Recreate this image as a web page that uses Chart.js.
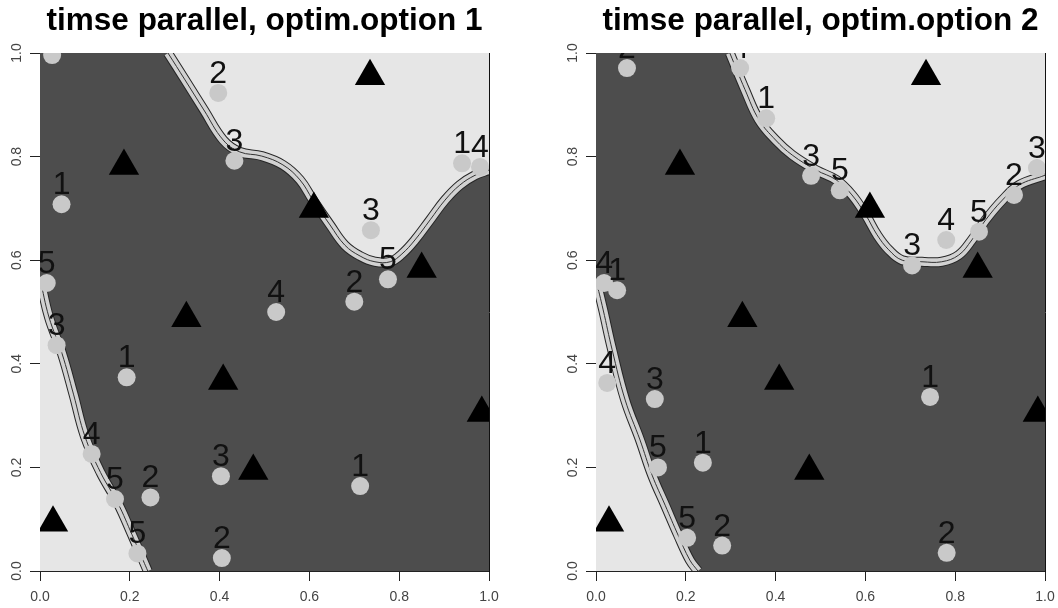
<!DOCTYPE html>
<html>
<head>
  <title>timse parallel, optim.option 1 / 2</title>
  <script src="https://cdn.jsdelivr.net/npm/chart.js"></script>
  <style>
    body { margin: 0; width: 1058px; height: 608px; overflow: hidden; background: #fff; position: relative; }
    .panel { position: absolute; top: 0; width: 529px; height: 608px; }
  </style>
</head>
<body>
  <div class="panel" style="left:0"><canvas id="c1" width="529" height="608"></canvas></div>
  <div class="panel" style="left:556px"><canvas id="c2" width="529" height="608"></canvas></div>
<script>
// axis ticks (both axes)
const tickVals = [0, 0.2, 0.4, 0.6, 0.8, 1.0];

// initial design (triangles), same in both panels
const designX = [0.735, 0.187, 0.61, 0.85, 0.326, 0.408, 0.475, 0.984, 0.029];
const designY = [0.955, 0.782, 0.699, 0.583, 0.488, 0.367, 0.193, 0.305, 0.093];

// points added by batch, optim.option 1
const opt1X = [0.027, 0.397, 0.433, 0.048, 0.737, 0.94, 0.98, 0.775, 0.015, 0.70, 0.526, 0.037, 0.193, 0.115, 0.167, 0.246, 0.403, 0.713, 0.217, 0.405];
const opt1Y = [0.996, 0.923, 0.792, 0.708, 0.658, 0.787, 0.78, 0.563, 0.556, 0.52, 0.50, 0.436, 0.374, 0.226, 0.139, 0.142, 0.183, 0.164, 0.034, 0.025];
const opt1Lab = ['4', '2', '3', '1', '3', '1', '4', '5', '5', '2', '4', '3', '1', '4', '5', '2', '3', '1', '5', '2'];

// points added by batch, optim.option 2
const opt2X = [0.069, 0.321, 0.379, 0.479, 0.543, 0.704, 0.78, 0.853, 0.931, 0.982, 0.018, 0.047, 0.025, 0.131, 0.138, 0.238, 0.203, 0.281, 0.744, 0.781];
const opt2Y = [0.971, 0.971, 0.874, 0.763, 0.735, 0.59, 0.639, 0.655, 0.726, 0.778, 0.556, 0.542, 0.363, 0.332, 0.2, 0.209, 0.064, 0.049, 0.336, 0.035];
const opt2Lab = ['2', '4', '1', '3', '5', '3', '4', '5', '2', '3', '4', '1', '4', '3', '5', '1', '5', '2', '1', '2'];

// excursion set boundary (contour), upper region and lower-left region
const up1X = [0.285, 0.323, 0.365, 0.408, 0.445, 0.494, 0.541, 0.579, 0.608, 0.646, 0.679, 0.713, 0.746, 0.78, 0.806, 0.835, 0.869, 0.902, 0.935, 0.969, 1.0];
const up1Y = [1.0, 0.948, 0.89, 0.832, 0.809, 0.801, 0.784, 0.755, 0.716, 0.668, 0.629, 0.608, 0.597, 0.597, 0.612, 0.639, 0.678, 0.716, 0.745, 0.764, 0.774];
const low1X = [0, 0.02, 0.049, 0.075, 0.1, 0.135, 0.174, 0.205, 0.23, 0.24];
const low1Y = [0.565, 0.49, 0.42, 0.34, 0.26, 0.19, 0.13, 0.07, 0.02, 0.0];

const up2X = [0.298, 0.332, 0.363, 0.40, 0.437, 0.49, 0.535, 0.57, 0.601, 0.626, 0.652, 0.682, 0.726, 0.77, 0.808, 0.837, 0.868, 0.905, 0.942, 1.0];
const up2Y = [1.0, 0.929, 0.871, 0.832, 0.803, 0.774, 0.755, 0.726, 0.687, 0.649, 0.62, 0.60, 0.597, 0.597, 0.61, 0.639, 0.678, 0.716, 0.745, 0.764];
const low2X = [0, 0.016, 0.036, 0.065, 0.098, 0.125, 0.154, 0.183, 0.209, 0.227];
const low2Y = [0.562, 0.504, 0.427, 0.33, 0.253, 0.185, 0.127, 0.069, 0.021, 0.0];

const FONT = '"Liberation Sans", Arial, sans-serif';

function toPts(xs, ys) { return xs.map((x, i) => ({ x: x, y: ys[i] })); }

function contourSets(xs, ys, fill) {
  const base = { data: toPts(xs, ys), showLine: true, pointRadius: 0, tension: 0.4, clip: 0 };
  return [
    Object.assign({}, base, { fill: fill, backgroundColor: '#e6e6e6', borderColor: '#262626', borderWidth: 10, order: 6 }),
    Object.assign({}, base, { fill: false, borderColor: '#d2d2d2', borderWidth: 8, order: 5 }),
    Object.assign({}, base, { fill: false, borderColor: '#333', borderWidth: 1, order: 4 })
  ];
}

const plotBg = {
  id: 'plotBg',
  beforeDraw(chart) {
    const { ctx, chartArea: a } = chart;
    ctx.save();
    ctx.fillStyle = '#4d4d4d';
    ctx.fillRect(a.left, a.top, a.right - a.left, a.bottom - a.top);
    ctx.restore();
  }
};

const batchLabels = {
  id: 'batchLabels',
  afterDatasetsDraw(chart) {
    const { ctx, chartArea: a } = chart;
    chart.data.datasets.forEach((ds, i) => {
      if (!ds.batch) return;
      const meta = chart.getDatasetMeta(i);
      ctx.save();
      ctx.beginPath();
      ctx.rect(a.left, a.top, a.right - a.left, a.bottom - a.top);
      ctx.clip();
      ctx.font = '32px ' + FONT;
      ctx.fillStyle = '#111';
      ctx.textAlign = 'center';
      ctx.textBaseline = 'alphabetic';
      meta.data.forEach((pt, j) => ctx.fillText(ds.batch[j], pt.x, pt.y - 10));
      ctx.restore();
    });
  }
};

function makeScales() {
  const tickFont = { size: 14, family: FONT };
  const setTicks = s => { s.ticks = tickVals.map(v => ({ value: v })); };
  return {
    x: {
      type: 'linear', min: 0, max: 1,
      afterBuildTicks: setTicks,
      afterFit: s => { s.height = 37; },
      grid: { display: true, drawOnChartArea: false, drawTicks: true, tickLength: 10, color: '#222' },
      border: { display: true, color: '#222' },
      ticks: { font: tickFont, color: '#444', padding: 8, maxRotation: 0, autoSkip: false, callback: v => v.toFixed(1) }
    },
    y: {
      type: 'linear', position: 'left', min: 0, max: 1,
      afterBuildTicks: setTicks,
      afterFit: s => { s.width = 40; },
      grid: { display: true, drawOnChartArea: false, drawTicks: true, tickLength: 10, color: '#222' },
      border: { display: false },
      ticks: { font: tickFont, color: '#444', padding: 3, minRotation: 90, maxRotation: 90, crossAlign: 'center', autoSkip: false, callback: v => v.toFixed(1) }
    },
    y2: {
      type: 'linear', position: 'right', min: 0, max: 1,
      afterFit: s => { s.width = 40; },
      grid: { display: false },
      border: { display: true, color: '#111' },
      ticks: { display: false }
    }
  };
}

function makeChart(id, title, px, py, lab, upX, upY, lowX, lowY) {
  const datasets = []
    .concat(contourSets(upX, upY, 'end'))
    .concat(contourSets(lowX, lowY, 'start'))
    .concat([
      { data: toPts(px, py), batch: lab, pointRadius: 9, pointBackgroundColor: '#c9c9c9', pointBorderWidth: 0, order: 2, clip: 0 },
      { data: toPts(designX, designY), pointStyle: 'triangle', pointRadius: 17.5, pointBackgroundColor: '#000', pointBorderWidth: 0, order: 1, clip: 0 }
    ]);
  new Chart(document.getElementById(id), {
    type: 'scatter',
    data: { datasets: datasets },
    options: {
      responsive: false,
      animation: false,
      events: [],
      layout: { padding: 0 },
      plugins: {
        legend: { display: false },
        tooltip: { enabled: false },
        title: {
          display: true, text: title, color: '#000',
          font: { size: 31.5, weight: 'bold', family: FONT, lineHeight: 1.0 },
          padding: { top: 6, bottom: 15.5 }
        }
      },
      scales: makeScales()
    },
    plugins: [plotBg, batchLabels]
  });
}

makeChart('c1', 'timse parallel, optim.option 1', opt1X, opt1Y, opt1Lab, up1X, up1Y, low1X, low1Y);
makeChart('c2', 'timse parallel, optim.option 2', opt2X, opt2Y, opt2Lab, up2X, up2Y, low2X, low2Y);
</script>
</body>
</html>
